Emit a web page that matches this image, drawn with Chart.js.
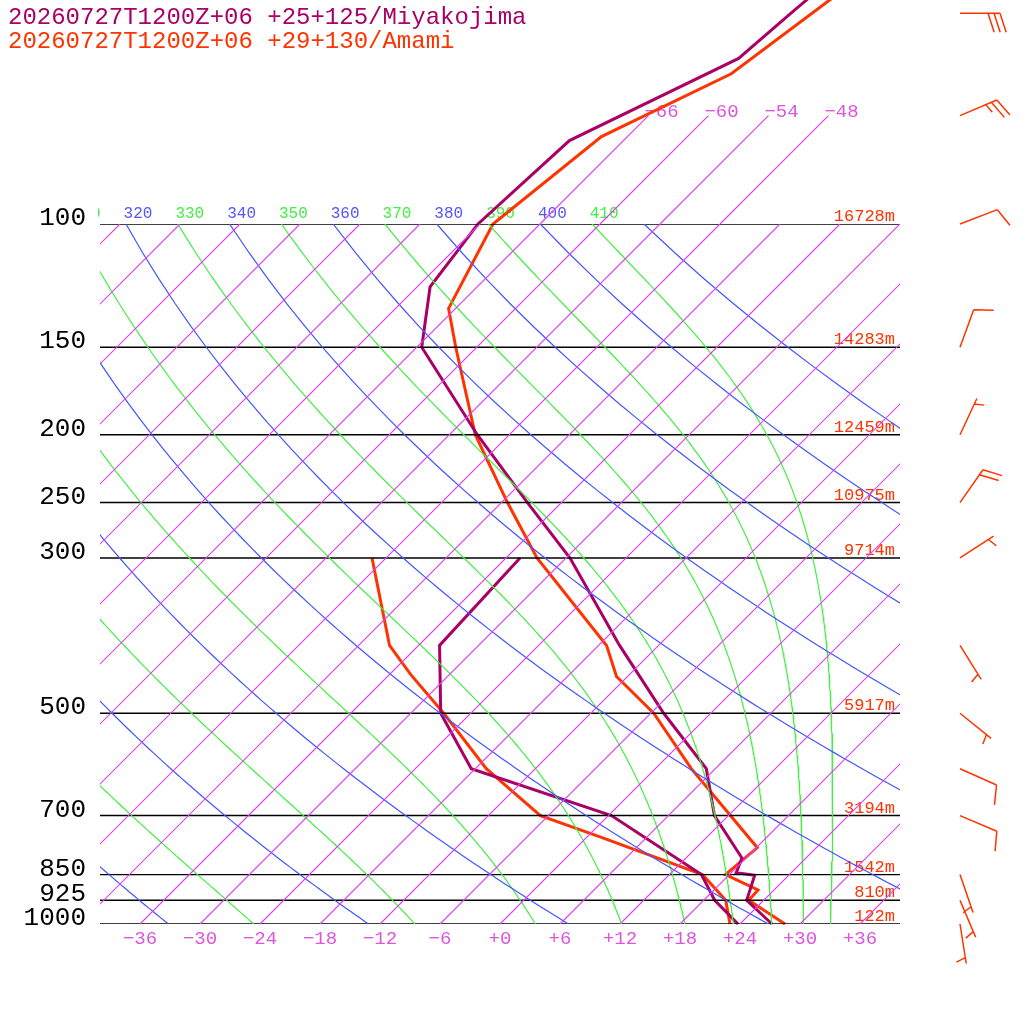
<!DOCTYPE html>
<html>
<head>
<meta charset="utf-8">
<script src="https://cdn.jsdelivr.net/npm/chart.js@4/dist/chart.umd.min.js"></script>
<style>html,body{margin:0;padding:0;background:#fff}</style>
</head>
<body>
<canvas id="skewt" width="1024" height="1024"></canvas>
<script>
// ---- sounding data (pressure hPa, temperature °C) ----
const MIYA_T_P = [45, 50, 58, 76, 100, 123, 150, 200, 250, 300, 400, 500, 600, 700, 805, 845, 852, 925, 1000];
const MIYA_T   = [-61.4, -62, -62.7, -71.4, -72.2, -70.7, -65.5, -51.2, -39.4, -29.6, -15.9, -4.7, 5.1, 10.6, 17.6, 18.5, 20.6, 22.3, 27.2];
const MIYA_TD_P = [300, 400, 500, 600, 700, 850, 925, 1000];
const MIYA_TD   = [-34.6, -33.9, -27.0, -18.4, 0.3, 15.2, 19.1, 23.8];

const AMAMI_T_P = [45, 61, 75, 100, 132, 150, 200, 250, 300, 400, 443, 500, 600, 778, 850, 894, 925, 1000];
const AMAMI_T   = [-58.8, -61.9, -68.6, -70.7, -66.7, -62.1, -51.4, -41.4, -32.9, -17.2, -13.1, -5.7, 3.6, 18.1, 17.6, 22.4, 22.5, 28.5];
const AMAMI_TD_P = [300, 400, 440, 500, 600, 700, 751, 850, 925, 1000];
const AMAMI_TD   = [-49.4, -38.9, -33.9, -26.7, -16.9, -6.8, 1.3, 15.3, 20.2, 23.0];

// wind barbs (Amami): pressure, direction from (deg), speed (kt)
const WIND_P   = [50, 70, 100, 150, 200, 250, 300, 400, 500, 600, 700, 850, 925, 1000];
const WIND_DIR = [90, 67, 69, 20, 25, 35, 57, 148, 129, 114, 113, 161, 157, 171];
const WIND_SPD = [30, 25, 10, 10, 5, 20, 5, 5, 5, 10, 10, 5, 5, 5];

// isobars with geopotential heights
const ISOBARS = [100, 150, 200, 250, 300, 500, 700, 850, 925, 1000];
const HEIGHTS = ['16728m', '14283m', '12459m', '10975m', '9714m', '5917m', '3194m', '1542m', '810m', '122m'];
const BOTTOM_TICKS = [-36, -30, -24, -18, -12, -6, 0, 6, 12, 18, 24, 30, 36];
const TOP_ISOTHERMS = [-66, -60, -54, -48];

const C_MIYA = '#aa0066', C_AMAMI = '#ff3300';
const C_ISO = 'rgb(221,68,238)', C_DRY = 'rgb(68,85,255)', C_MOIST = 'rgb(68,238,68)';
const FONT = '"Liberation Mono", "DejaVu Sans Mono", monospace';

// skew: x value = T + K*ln(1000/p)
const K = 70 / Math.LN10;
const skew = (t, p) => t + K * Math.log(1000 / p);
const pts = (ps, ts) => ps.map((p, i) => ({ x: skew(ts[i], p), y: p }));

function line(data, color, width, clip) {
    const ds = { data, borderColor: color, backgroundColor: color, borderWidth: width, showLine: true,
                 pointRadius: 0, tension: 0, fill: false };
    if (clip === false) ds.clip = false;
    return ds;
}

const datasets = [];
// isotherms
for (let t = -120; t <= 48; t += 6) {
    datasets.push(line([{ x: skew(t, 1000), y: 1000 }, { x: skew(t, 100), y: 100 }], C_ISO, 1.2));
}
for (const t of TOP_ISOTHERMS) {
    datasets.push(line([{ x: skew(t, 100), y: 100 }, { x: skew(t, 70), y: 70 }], C_ISO, 1.2, false));
}
// dry adiabats
for (let th = 220; th <= 420; th += 20) {
    const d = [];
    for (let p = 100; p <= 1000; p += 10) d.push({ x: skew(th * Math.pow(p / 1000, 0.2857) - 273.15, p), y: p });
    datasets.push(line(d, C_DRY, 1.2));
}
// moist adiabats, labelled by theta at 100 hPa
function moist(th) {
    const Rd = 287.04, cp = 1005.7, L = 2.501e6, eps = 0.622;
    let T = th * Math.pow(0.1, 0.2857), p = 100;
    const d = [{ x: skew(T - 273.15, p), y: p }];
    const dp = 1;
    const f = (TT, pp) => {
        const tc = TT - 273.15;
        const es = 6.112 * Math.exp(17.67 * tc / (tc + 243.5));
        const rs = eps * es / (pp - es);
        return (Rd * TT + L * rs) / (pp * (cp + L * L * rs * eps / (Rd * TT * TT)));
    };
    while (p < 1000) {
        const k1 = f(T, p), k2 = f(T + k1 * dp / 2, p + dp / 2), k3 = f(T + k2 * dp / 2, p + dp / 2), k4 = f(T + k3 * dp, p + dp);
        T += dp * (k1 + 2 * k2 + 2 * k3 + k4) / 6;
        p += dp;
        if (p % 5 === 0) d.push({ x: skew(T - 273.15, p), y: p });
    }
    return d;
}
for (let th = 250; th <= 410; th += 20) datasets.push(line(moist(th), C_MOIST, 1.2));
// isobars
for (const p of ISOBARS) datasets.push(line([{ x: -40, y: p }, { x: 40, y: p }], '#000', 1.4));
// soundings
datasets.push(line(pts(MIYA_TD_P, MIYA_TD), C_MIYA, 3, false));
datasets.push(line(pts(MIYA_T_P, MIYA_T), C_MIYA, 3, false));
datasets.push(line(pts(AMAMI_TD_P, AMAMI_TD), C_AMAMI, 3, false));
datasets.push(line(pts(AMAMI_T_P, AMAMI_T), C_AMAMI, 3, false));

const textPlugin = {
    id: 'texts',
    beforeDatasetsDraw(chart) {
        const { ctx, scales: { x, y } } = chart;
        ctx.save();
        ctx.textBaseline = 'alphabetic';
        // titles
        ctx.font = '24px ' + FONT; ctx.textAlign = 'left';
        ctx.fillStyle = C_MIYA; ctx.fillText('20260727T1200Z+06 +25+125/Miyakojima', 8, 24);
        ctx.fillStyle = C_AMAMI; ctx.fillText('20260727T1200Z+06 +29+130/Amami', 8, 48);
        // pressure labels & heights
        ISOBARS.forEach((p, i) => {
            const py = y.getPixelForValue(p);
            ctx.font = '26px ' + FONT; ctx.fillStyle = '#000'; ctx.textAlign = 'right';
            ctx.fillText(String(p), 86, py + 1);
            ctx.font = '17px ' + FONT; ctx.fillStyle = C_AMAMI;
            ctx.fillText(HEIGHTS[i], 895, py - 3);
        });
        // bottom temperature ticks
        ctx.font = '19px ' + FONT; ctx.fillStyle = '#dd55dd'; ctx.textAlign = 'center';
        const yb = y.getPixelForValue(1000);
        for (const t of BOTTOM_TICKS) {
            ctx.fillText((t >= 0 ? '+' : '\u2212') + Math.abs(t), x.getPixelForValue(skew(t, 1000)), yb + 20);
        }
        // top isotherm labels
        ctx.textAlign = 'left';
        for (const t of TOP_ISOTHERMS) {
            ctx.fillText('\u2212' + Math.abs(t), x.getPixelForValue(skew(t, 70)) - 4, y.getPixelForValue(70) + 1);
        }
        // theta labels, clipped at the left edge of the diagram
        ctx.save();
        ctx.beginPath(); ctx.rect(98, 0, 900, 1024); ctx.clip();
        ctx.font = '16px ' + FONT; ctx.textAlign = 'center';
        const yt = y.getPixelForValue(100) - 6;
        for (let th = 310; th <= 410; th += 10) {
            ctx.fillStyle = (th % 20 === 0) ? '#5555ff' : '#44ee44';
            ctx.fillText(String(th), x.getPixelForValue(skew(th * Math.pow(0.1, 0.2857) - 273.15, 100)) + 12, yt);
        }
        ctx.restore();
        ctx.restore();
    },
    afterDraw(chart) {
        const { ctx, scales: { y } } = chart;
        ctx.save();
        ctx.strokeStyle = C_AMAMI; ctx.lineWidth = 1.5;
        WIND_P.forEach((p, i) => {
            const x0 = 960, y0 = y.getPixelForValue(p);
            const a = WIND_DIR[i] * Math.PI / 180;
            const ux = Math.sin(a), uy = -Math.cos(a);
            const L = 40;
            const tx = x0 + ux * L, ty = y0 + uy * L;
            ctx.beginPath(); ctx.moveTo(x0, y0); ctx.lineTo(tx, ty);
            const r = 72 * Math.PI / 180;
            const fx = ux * Math.cos(r) - uy * Math.sin(r), fy = ux * Math.sin(r) + uy * Math.cos(r);
            let spd = WIND_SPD[i], pos = 0;
            if (spd === 5) pos = 1;
            while (spd >= 5) {
                const len = spd >= 10 ? 20 : 10;
                const bx = tx - ux * pos * 6, by = ty - uy * pos * 6;
                ctx.moveTo(bx, by); ctx.lineTo(bx + fx * len, by + fy * len);
                spd -= spd >= 10 ? 10 : 5; pos++;
            }
            ctx.stroke();
        });
        ctx.restore();
    }
};

new Chart(document.getElementById('skewt'), {
    type: 'scatter',
    data: { datasets },
    options: {
        responsive: false,
        animation: false,
        layout: { padding: { left: 100, right: 124, top: 224, bottom: 100 } },
        plugins: { legend: { display: false }, tooltip: { enabled: false } },
        scales: {
            x: { type: 'linear', min: -40, max: 40, display: false },
            y: { type: 'logarithmic', reverse: true, min: 100, max: 1000, display: false }
        }
    },
    plugins: [textPlugin]
});
</script>
</body>
</html>
